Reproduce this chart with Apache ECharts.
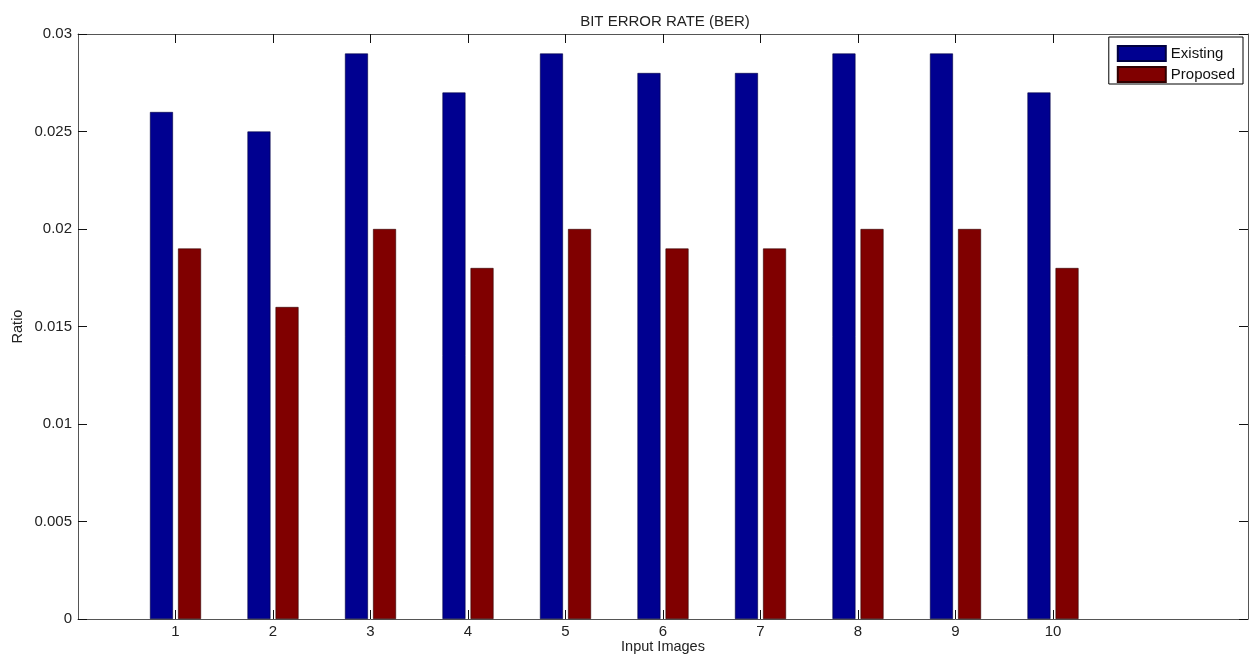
<!DOCTYPE html>
<html>
<head>
<meta charset="utf-8">
<script src="https://cdn.jsdelivr.net/npm/echarts@6/dist/echarts.min.js"></script>
<style>html,body{margin:0;padding:0;background:#fff;}#c{width:1256px;height:657px;}</style>
</head>
<body>
<div id="c"></div>
<script>
var categories = [1, 2, 3, 4, 5, 6, 7, 8, 9, 10];
var existing = [0.026, 0.025, 0.029, 0.027, 0.029, 0.028, 0.028, 0.029, 0.029, 0.027];
var proposed = [0.019, 0.016, 0.020, 0.018, 0.020, 0.019, 0.019, 0.020, 0.020, 0.018];
var yTicks = [0, 0.005, 0.01, 0.015, 0.02, 0.025, 0.03];

var chart = echarts.init(document.getElementById('c'), null, {renderer: 'canvas'});
var font = 'Arial, "Liberation Sans", sans-serif';
var axisColor = '#555';
var txt = '#222';
function pairs(vals) { return categories.map(function (c, i) { return [c, vals[i]]; }); }

var option = {
  backgroundColor: '#fff',
  animation: false,
  title: {
    text: 'BIT ERROR RATE (BER)', left: 660, top: 9, textAlign: 'center',
    textStyle: {fontFamily: font, fontSize: 15, fontWeight: 'normal', color: txt}
  },
  legend: {
    orient: 'vertical', right: 13, top: 37,
    icon: 'rect',
    itemWidth: 48, itemHeight: 15, itemGap: 4,
    padding: [8, 8, 1, 8],
    borderColor: '#000', borderWidth: 1, backgroundColor: '#fff',
    textStyle: {fontFamily: font, fontSize: 15, color: '#111'},
    data: ['Existing', 'Proposed']
  },
  grid: {left: 78, right: 8, top: 34, bottom: 38, containLabel: false, outerBoundsMode: 'none'},
  xAxis: [{
    type: 'value', min: 0, max: 12, interval: 1,
    name: 'Input Images', nameLocation: 'middle', nameGap: 20, nameMoveOverlap: false,
    nameTextStyle: {fontFamily: font, fontSize: 14.5, color: txt},
    axisLine: {show: true, onZero: false, lineStyle: {color: axisColor, width: 1}},
    axisTick: {show: true, inside: true, length: 9, customValues: categories, lineStyle: {color: '#111'}},
    axisLabel: {show: true, customValues: categories, fontFamily: font, fontSize: 15, color: txt, margin: 5},
    splitLine: {show: false}
  }, {
    type: 'value', min: 0, max: 12, interval: 1, position: 'top',
    axisLine: {show: true, onZero: false, lineStyle: {color: axisColor, width: 1}},
    axisTick: {show: true, inside: true, length: 9, customValues: categories, lineStyle: {color: '#111'}},
    axisLabel: {show: false},
    splitLine: {show: false}
  }],
  yAxis: [{
    type: 'value', min: 0, max: 0.03, interval: 0.005,
    name: 'Ratio', nameLocation: 'middle', nameGap: 53, nameRotate: 90, nameMoveOverlap: false,
    nameTextStyle: {fontFamily: font, fontSize: 14.5, color: txt},
    axisLine: {show: true, onZero: false, lineStyle: {color: axisColor, width: 1}},
    axisTick: {show: true, inside: true, length: 9, lineStyle: {color: '#111'}},
    axisLabel: {fontFamily: font, fontSize: 15, color: txt, margin: 6,
      formatter: function (v) { return String(parseFloat(v.toFixed(4))); }},
    splitLine: {show: false}
  }, {
    type: 'value', min: 0, max: 0.03, interval: 0.005, position: 'right',
    axisLine: {show: true, onZero: false, lineStyle: {color: axisColor, width: 1}},
    axisTick: {show: true, inside: true, length: 9, lineStyle: {color: '#111'}},
    axisLabel: {show: false},
    splitLine: {show: false}
  }],
  series: [{
    name: 'Existing', type: 'bar', xAxisIndex: 0, yAxisIndex: 0,
    barWidth: 23, barGap: '22%',
    itemStyle: {color: '#000090', borderColor: '#000040', borderWidth: 0.6},
    data: pairs(existing)
  }, {
    name: 'Proposed', type: 'bar', xAxisIndex: 0, yAxisIndex: 0,
    barWidth: 23, barGap: '22%',
    itemStyle: {color: '#800000', borderColor: '#300000', borderWidth: 0.6},
    data: pairs(proposed)
  }]
};
chart.setOption(option);
</script>
</body>
</html>
